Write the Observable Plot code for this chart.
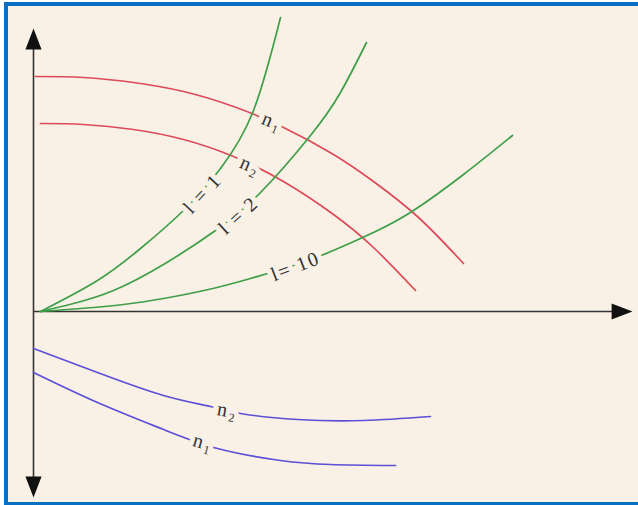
<!DOCTYPE html>
<html>
<head>
<meta charset="utf-8">
<script src="https://cdn.jsdelivr.net/npm/d3@7"></script>
<script src="https://cdn.jsdelivr.net/npm/@observablehq/plot@0.6"></script>
<style>
  html, body { margin: 0; padding: 0; background: #f9f1e6; overflow: hidden; }
  #wrap { position: relative; width: 700px; height: 505px; overflow: hidden; background: #ffffff; }
  #panel {
    position: absolute; left: 4px; top: 2px; width: 700px; height: 503px;
    background: #f9f1e6;
    border-left: 4px solid #0a6fc2; border-top: 4px solid #0a6fc2; border-bottom: 3px solid #0a6fc2;
    box-sizing: border-box;
  }
  #chart { position: absolute; left: 0; top: 0; }
  #chart g[aria-label="text"] text { letter-spacing: 1.8px; }
</style>
</head>
<body>
<div id="wrap"><div id="panel"></div><div id="chart"></div></div>
<script>
// Curve values (x: right of vertical axis, y: above horizontal axis)
const redN1X = [2, 50, 100, 150, 200, 250, 300, 340, 385, 430];
const redN1Y = [235, 234, 229, 220, 205, 184, 157, 130, 94, 48];
const redN2X = [7, 50, 100, 150, 200, 250, 300, 340, 382];
const redN2Y = [188, 187, 182, 172, 155, 130, 97, 64, 21];

const greenL1X = [7, 64, 107, 150, 187, 220, 247];
const greenL1Y = [0, 31, 63, 101, 143, 201, 294];
const greenL2X = [7, 40, 80, 130, 182, 227, 277, 307, 333];
const greenL2Y = [0, 8, 21, 47, 81, 119, 176, 219, 269];
const greenL10X = [7, 47, 90, 130, 175, 217, 260, 295, 340, 380, 430, 479];
const greenL10Y = [0, 3, 7, 13, 22, 33, 46, 59, 79, 101, 137, 176];

const blueN2X = [0, 64, 130, 177, 207, 264, 330, 397];
const blueN2Y = [-37, -61, -84, -95, -102, -108, -109, -105];
const blueN1X = [0, 64, 130, 184, 247, 297, 362];
const blueN1Y = [-61, -91, -118, -137, -149, -153, -154];

// Labels
const labelText = ["n\u2081", "n\u2082", "l = 1", "l = 2", "l= 10", "n\u2082", "n\u2081"];
const labelX = [239, 217, 169, 205, 262, 194, 170];
const labelY = [190, 146, 118, 96, 45, -99, -131];
const labelRotate = [22, 24, -47, -42, -21, 10, 16];

// Axis extents
const xAxisEnd = 599;
const yAxisTop = 283;
const yAxisBottom = -186;

const series = [
  {name: "red n1", xs: redN1X, ys: redN1Y, color: "#dc4a5a"},
  {name: "red n2", xs: redN2X, ys: redN2Y, color: "#dc4a5a"},
  {name: "l1", xs: greenL1X, ys: greenL1Y, color: "#3f9e48"},
  {name: "l2", xs: greenL2X, ys: greenL2Y, color: "#3f9e48"},
  {name: "l10", xs: greenL10X, ys: greenL10Y, color: "#3f9e48"},
  {name: "blue n2", xs: blueN2X, ys: blueN2Y, color: "#5b50d6"},
  {name: "blue n1", xs: blueN1X, ys: blueN1Y, color: "#5b50d6"}
];
const rows = series.flatMap(s => s.xs.map((x, i) => ({series: s.name, x, y: s.ys[i], color: s.color})));
const labels = labelText.map((t, i) => ({t, x: labelX[i], y: labelY[i], r: labelRotate[i]}));

const arrowHead = {
  draw(ctx, size) {
    const r = Math.sqrt(size / Math.PI);
    const h = r * 2.2, w = r * 1.7;
    ctx.moveTo(0, 0);
    ctx.lineTo(w / 2, h);
    ctx.lineTo(-w / 2, h);
    ctx.closePath();
  }
};
const arrows = [
  {x: 0, y: yAxisTop, rot: 0},
  {x: xAxisEnd, y: 0, rot: 90},
  {x: 0, y: yAxisBottom, rot: 180}
];

const chart = Plot.plot({
  width: 638,
  height: 505,
  margin: 0,
  x: {domain: [-33, 605], axis: null},
  y: {domain: [-194, 311], axis: null},
  style: {background: "transparent", overflow: "visible"},
  marks: [
    Plot.ruleY([0], {x1: 0, x2: xAxisEnd - 8, stroke: "#333", strokeWidth: 1.6}),
    Plot.ruleX([0], {y1: yAxisBottom + 8, y2: yAxisTop - 8, stroke: "#333", strokeWidth: 1.6}),
    Plot.dot(arrows, {x: "x", y: "y", rotate: "rot", symbol: arrowHead, r: 9.5, fill: "#111", stroke: "none"}),
    Plot.line(rows, {x: "x", y: "y", z: "series", stroke: "color", strokeWidth: 1.7, curve: "natural"}),
    Plot.text(labels, {
      x: "x", y: "y", text: "t", rotate: "r",
      fontFamily: "Liberation Serif", fontSize: 20, fill: "#333",
      stroke: "#f9f1e6", strokeWidth: 10, paintOrder: "stroke"
    })
  ]
});
document.getElementById("chart").appendChild(chart);
</script>
</body>
</html>
